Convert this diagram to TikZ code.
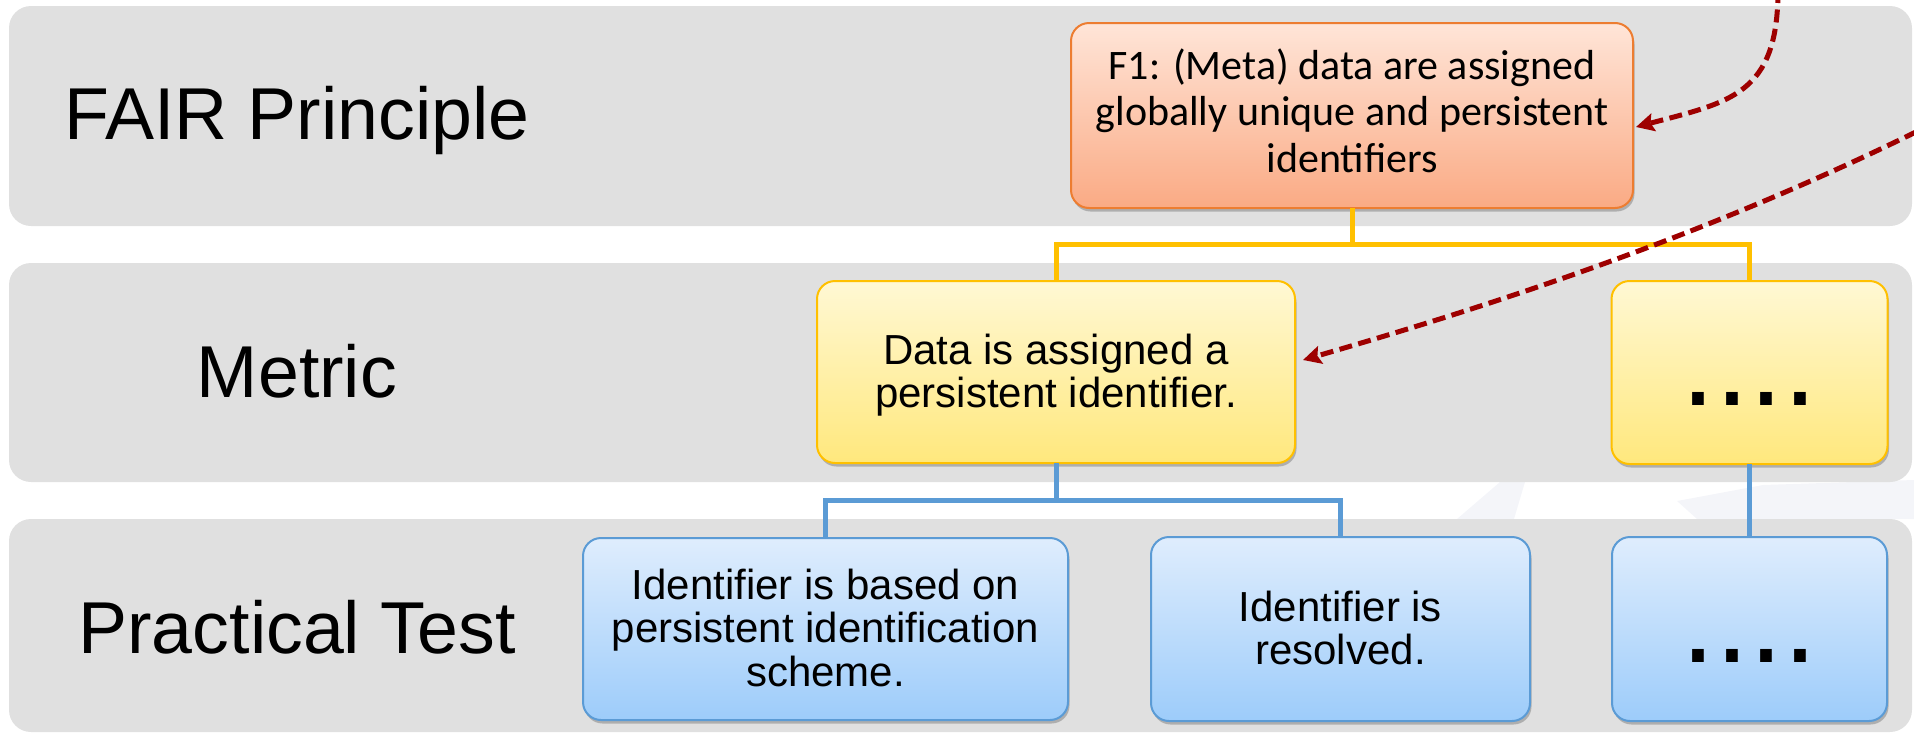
\documentclass[tikz,border=0pt]{standalone}
\usepackage{fontspec}
\setmainfont{Liberation Sans}
\newfontfamily\calfont{Carlito}
\usetikzlibrary{arrows.meta,shadows}
\definecolor{bandgray}{RGB}{224,224,224}
\definecolor{wmgray}{RGB}{244,245,249}
\definecolor{orangeline}{RGB}{237,125,49}
\definecolor{orangetop}{RGB}{255,229,216}
\definecolor{orangebot}{RGB}{250,170,132}
\definecolor{yellowline}{RGB}{255,192,0}
\definecolor{yellowtop}{RGB}{255,248,212}
\definecolor{yellowbot}{RGB}{255,232,125}
\definecolor{blueline}{RGB}{91,155,213}
\definecolor{bluetop}{RGB}{223,237,253}
\definecolor{bluebot}{RGB}{157,204,250}
\definecolor{arrowred}{RGB}{158,0,0}
\begin{document}
\begin{tikzpicture}[x=1pt,y=-1pt,
  band/.style={fill=bandgray, rounded corners=22pt},
  boxbase/.style={rectangle, rounded corners=18pt, line width=2pt, inner sep=0pt, outer sep=0pt, align=center,
    drop shadow={shadow xshift=1.5pt, shadow yshift=-3.5pt, opacity=0.22, fill=black}},
  orangebox/.style={boxbase, draw=orangeline, top color=orangetop, bottom color=orangebot,
    font=\calfont\fontsize{42}{46.5}\selectfont},
  yellowbox/.style={boxbase, draw=yellowline, top color=yellowtop, bottom color=yellowbot,
    font=\fontsize{42}{43.5}\selectfont},
  bluebox/.style={boxbase, draw=blueline, top color=bluetop, bottom color=bluebot,
    font=\fontsize{42}{43.5}\selectfont},
  dotstext/.style={font=\fontsize{122}{130}\selectfont, text height=66pt, text depth=0pt},
  rowlabel/.style={font=\fontsize{73.5}{80}\selectfont, anchor=base, inner sep=0pt},
  yconn/.style={draw=yellowline, line width=5pt},
  bconn/.style={draw=blueline, line width=5pt},
  refarrow/.style={draw=arrowred, line width=5pt, dash pattern=on 13pt off 6.5pt,
    -{Stealth[length=18pt,width=18pt,inset=3pt]}}
]
\useasboundingbox (0,0) rectangle (1914,734);
\begin{scope}
\clip (0,0) rectangle (1914,734);
% faint watermark shapes in the gap
\fill[wmgray] (1457,519) -- (1500,482) -- (1525,482) -- (1514,519) -- cycle;
\fill[wmgray] (1677,501) -- (1763,485) -- (1914,480) -- (1914,519) -- (1697,519) -- cycle;
% bands
\fill[band] (9,6) rectangle (1912,226);
\fill[band] (9,263) rectangle (1912,482);
\fill[band] (9,519) rectangle (1912,732);
% row labels
\node[rowlabel] (lfair) at (297,139) {FAIR Principle};
\node[rowlabel] (lmetric) at (297,397) {Metric};
\node[rowlabel] (ltest) at (297,653) {Practical Test};
% boxes
\node[orangebox, minimum width=562pt, minimum height=185pt] (f1) at (1352,115.5)
  {\rule{0pt}{36pt}F1: (Meta) data are assigned\\globally unique and persistent\\identifiers\rule[-16pt]{0pt}{16pt}};
\node[yellowbox, minimum width=478pt, minimum height=182pt] (m1) at (1056,372)
  {\rule{0pt}{37.5pt}Data is assigned a\\persistent identifier.\rule[-10pt]{0pt}{10pt}};
\node[yellowbox, dotstext, minimum width=276pt, minimum height=183pt] (m2) at (1749.5,372.5) {....};
\node[bluebox, minimum width=485pt, minimum height=182pt] (t1) at (825.5,629)
  {\rule{0pt}{37pt}Identifier is based on\\persistent identification\\scheme.\rule[-10pt]{0pt}{10pt}};
\node[bluebox, minimum width=379pt, minimum height=184pt] (t2) at (1340.5,629)
  {\rule{0pt}{37.5pt}Identifier is\\resolved.\rule[-10pt]{0pt}{10pt}};
\node[bluebox, dotstext, minimum width=275pt, minimum height=184pt] (t3) at (1749.5,629) {....};
% connectors
\draw[yconn] (f1.south) -- ++(0,36.5) -| (m1.north);
\draw[yconn] (f1.south) -- ++(0,36.5) -| (m2.north);
\draw[bconn] (m1.south) -- ++(0,37.5) -| (t1.north);
\draw[bconn] (m1.south) -- ++(0,37.5) -| (t2.north);
\draw[bconn] (m2.south) -- (t3.north);
% dashed reference arrows
\coordinate (src1) at (1778,-10);
\coordinate (src2) at (1934,123);
\draw[refarrow] (src1) .. controls (1778,95) and (1730,102) .. ([xshift=3pt,yshift=-11.5pt]f1.east);
\draw[refarrow] (src2) .. controls (1714,233) and (1500,303) .. ([xshift=8pt,yshift=12pt]m1.east);
\end{scope}
\end{tikzpicture}
\end{document}
